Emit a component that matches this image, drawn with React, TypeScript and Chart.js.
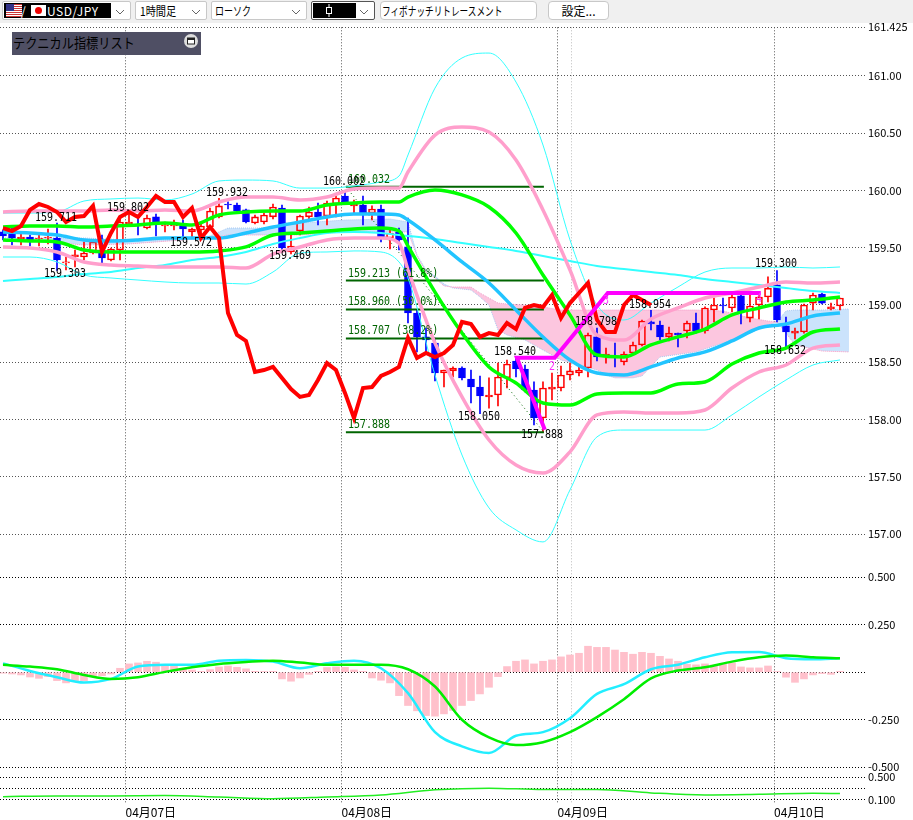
import React, { useEffect, useRef } from "react";
import { Chart, registerables } from "chart.js";

Chart.register(...registerables);

const opens = [159.638,159.664,159.576,159.594,159.576,159.585,159.585,159.367,159.419,159.419,159.454,159.454,159.393,159.480,159.707,159.707,159.672,159.769,159.690,159.690,159.690,159.638,159.655,159.681,159.769,159.882,159.873,159.830,159.716,159.725,159.769,159.847,159.463,159.646,159.769,159.812,159.777,159.882,159.952,159.865,159.873,159.803,159.838,159.585,159.638,159.507,158.930,158.721,158.668,158.406,158.424,158.450,158.354,158.284,158.197,158.214,158.363,158.511,158.441,158.258,158.013,158.266,158.275,158.389,158.406,158.450,158.721,158.555,158.555,158.502,158.581,158.651,158.852,158.825,158.721,158.755,158.773,158.843,158.773,158.956,159.000,158.974,159.079,158.886,159.000,159.070,159.175,158.817,158.755,158.764,159.017,159.096,158.965,158.991];
const closes = [159.603,159.585,159.594,159.568,159.585,159.594,159.393,159.376,159.437,159.454,159.550,159.410,159.489,159.725,159.725,159.690,159.760,159.725,159.699,159.699,159.664,159.664,159.690,159.821,159.865,159.873,159.821,159.725,159.769,159.786,159.856,159.498,159.515,159.777,159.812,159.769,159.891,159.934,159.891,159.882,159.795,159.838,159.594,159.629,159.568,158.930,158.721,158.694,158.406,158.432,158.450,158.363,158.284,158.205,158.214,158.371,158.485,158.441,158.258,158.013,158.275,158.284,158.389,158.424,158.432,158.738,158.546,158.572,158.546,158.572,158.651,158.860,158.834,158.721,158.755,158.738,158.843,158.773,158.974,159.000,158.991,159.070,158.939,158.991,159.070,159.148,158.869,158.764,158.773,159.000,159.087,159.017,158.983,159.061];
const highs = [159.655,159.672,159.629,159.611,159.629,159.664,159.716,159.419,159.480,159.550,159.559,159.611,159.498,159.760,159.802,159.786,159.786,159.795,159.725,159.742,159.742,159.672,159.725,159.847,159.932,159.900,159.891,159.838,159.786,159.803,159.882,159.873,159.629,159.786,159.856,159.891,159.908,159.952,160.002,159.917,159.952,159.865,159.873,159.655,159.672,159.760,158.956,158.799,158.712,158.432,158.459,158.459,158.432,158.380,158.363,158.493,158.520,158.540,158.476,158.328,158.328,158.406,158.467,158.493,158.476,158.755,158.798,158.624,158.668,158.590,158.677,158.869,158.954,158.860,158.808,158.755,158.860,158.930,158.983,159.061,159.061,159.087,159.087,159.087,159.113,159.245,159.300,158.895,158.799,159.009,159.105,159.105,159.017,159.061];
const lows = [159.568,159.524,159.524,159.515,159.515,159.533,159.303,159.306,159.332,159.393,159.445,159.367,159.384,159.393,159.699,159.611,159.664,159.603,159.638,159.655,159.585,159.585,159.572,159.664,159.760,159.838,159.803,159.716,159.707,159.707,159.751,159.469,159.445,159.611,159.742,159.699,159.699,159.769,159.882,159.803,159.699,159.742,159.550,159.489,159.480,158.843,158.590,158.590,158.336,158.284,158.371,158.345,158.144,158.050,158.100,158.118,158.275,158.371,158.240,157.952,157.888,158.170,158.249,158.345,158.380,158.371,158.511,158.493,158.459,158.476,158.572,158.642,158.782,158.694,158.686,158.633,158.712,158.755,158.755,158.852,158.930,158.939,158.834,158.852,158.878,159.026,158.852,158.632,158.703,158.755,158.956,159.009,158.956,158.956];

const bandIdx = [0,3,6,9,12,15,18,21,24,27,30,33,36,39,42,44,45,48,51,54,57,60,63,66,69,72,75,78,81,84,87,90,93];
const upperThin = [159.803,159.803,159.812,159.908,159.926,159.934,159.917,159.969,160.083,160.091,160.083,160.021,160.021,160.039,160.074,160.126,160.310,160.894,161.157,161.200,160.947,160.397,159.568,159.000,158.869,159.017,159.157,159.288,159.323,159.323,159.332,159.323,159.332];
const upperPink = [159.812,159.821,159.821,159.821,159.830,159.821,159.830,159.821,159.900,159.943,159.943,159.917,159.943,160.013,160.021,160.021,160.161,160.484,160.554,160.510,160.266,159.830,159.306,158.738,158.694,158.878,158.974,159.061,159.105,159.157,159.201,159.192,159.201];
const upperGreen = [159.681,159.690,159.690,159.681,159.690,159.699,159.716,159.699,159.786,159.812,159.821,159.821,159.873,159.891,159.900,159.900,159.943,160.004,159.961,159.856,159.629,159.262,158.913,158.563,158.546,158.651,158.721,158.790,158.913,158.974,159.026,159.044,159.070];
const middleBlue = [159.638,159.629,159.611,159.568,159.559,159.568,159.585,159.585,159.585,159.629,159.681,159.725,159.769,159.795,159.795,159.786,159.742,159.568,159.376,159.192,158.956,158.721,158.520,158.406,158.389,158.459,158.537,158.590,158.686,158.799,158.834,158.904,158.930];
const lowerGreen = [159.568,159.559,159.550,159.480,159.463,159.463,159.463,159.463,159.472,159.507,159.611,159.629,159.646,159.664,159.672,159.646,159.515,159.113,158.755,158.459,158.319,158.144,158.126,158.223,158.232,158.232,158.310,158.328,158.485,158.581,158.624,158.764,158.790];
const lowerPink = [159.507,159.498,159.463,159.376,159.349,159.341,159.332,159.332,159.332,159.323,159.445,159.507,159.568,159.585,159.585,159.541,159.306,158.668,158.197,157.821,157.603,157.533,157.717,158.040,158.066,158.057,158.057,158.083,158.275,158.415,158.476,158.624,158.651];
const lowerThin = [159.419,159.419,159.376,159.262,159.236,159.218,159.201,159.192,159.192,159.183,159.288,159.454,159.463,159.472,159.463,159.376,159.236,158.389,157.690,157.228,157.036,156.931,157.385,157.848,157.908,157.908,157.908,157.908,158.040,158.197,158.345,158.476,158.520];
const slowCyan = [159.210,159.227,159.245,159.271,159.288,159.323,159.349,159.393,159.419,159.463,159.533,159.585,159.629,159.638,159.629,159.611,159.603,159.576,159.541,159.507,159.472,159.428,159.384,159.341,159.314,159.288,159.262,159.227,159.201,159.175,159.148,159.122,159.105];

const laggingRed = [159.672,159.646,159.690,159.830,159.882,159.856,159.812,159.725,159.769,159.777,159.865,159.463,159.629,159.769,159.812,159.769,159.856,159.952,159.900,159.900,159.769,159.847,159.585,159.681,159.585,158.930,158.738,158.686,158.415,158.432,158.459,158.363,158.266,158.197,158.214,158.345,158.493,158.432,158.232,158.013,158.275,158.284,158.380,158.415,158.459,158.712,158.537,158.581,158.546,158.581,158.651,158.852,158.834,158.721,158.755,158.738,158.843,158.790,158.974,159.000,158.983,159.087,158.886,159.017,159.105,159.192,158.869,158.764,158.764,159.000,159.087,159.044,159.000];

const cloudIdx = [0,5,9,14,20,23,25,30,31,33,38,43,45,46,47,48,49,50,52,53,54,55,56,58,60,62,64,66,67,68,70,71,73,77,80,83,85,86,87,88,91,94];
const spanA = [159.585,159.585,159.585,159.568,159.568,159.603,159.672,159.672,159.716,159.716,159.742,159.751,159.725,159.437,159.306,159.253,159.183,159.148,159.131,159.070,159.000,158.782,158.738,158.694,158.607,158.520,158.476,158.432,158.389,158.363,158.363,158.380,158.546,158.590,158.668,158.755,158.825,158.852,158.948,158.956,158.956,158.965];
const spanB = [159.568,159.550,159.524,159.533,159.568,159.585,159.611,159.611,159.611,159.611,159.638,159.638,159.638,159.428,159.288,159.236,159.166,159.157,159.157,159.105,159.061,159.017,159.009,159.000,158.983,158.956,158.956,158.956,158.956,158.956,158.956,158.956,158.956,158.956,158.948,158.886,158.860,158.852,158.755,158.651,158.598,158.590];

const fibLevels = [160.032,159.213,158.960,158.707,157.888];
const fibRange = [38.1,60.1];
const fibHighLow = [160.032,157.888];
const waveIdx = [60.2,57.1,61.3,67.2,84.2];
const waveValues = [157.91,158.54,158.54,159.105,159.105];

const macdHist = [-0.005,-0.009,-0.014,-0.025,-0.032,-0.023,-0.044,-0.056,-0.044,-0.044,-0.021,-0.018,-0.009,0.021,0.044,0.049,0.058,0.053,0.039,0.039,0.021,0.012,0.005,0.014,0.028,0.033,0.026,0.018,0.005,0.004,0.005,-0.035,-0.047,-0.03,-0.011,0.005,0.025,0.028,0.026,0.012,0.005,-0.03,-0.042,-0.056,-0.123,-0.175,-0.203,-0.228,-0.231,-0.219,-0.201,-0.175,-0.149,-0.114,-0.079,-0.023,0.03,0.058,0.065,0.044,0.058,0.065,0.081,0.091,0.1,0.137,0.131,0.131,0.117,0.105,0.095,0.105,0.1,0.084,0.07,0.058,0.042,0.039,0.044,0.039,0.044,0.049,0.028,0.023,0.023,0.033,0.004,-0.026,-0.053,-0.035,-0.014,-0.007,-0.011,0.005];
const macdIdx = [0,3,6,9,12,15,18,21,24,27,30,33,36,39,42,45,48,51,54,57,60,63,66,69,72,75,78,81,84,87,90,93];
const macdLine = [0.047,0.007,-0.026,-0.054,-0.035,0.03,0.039,0.039,0.061,0.065,0.056,0.021,0.047,0.061,0.021,-0.11,-0.315,-0.39,-0.425,-0.334,-0.315,-0.242,-0.114,-0.063,0.016,0.04,0.079,0.105,0.107,0.074,0.068,0.074];
const macdSignal = [0.039,0.03,0.016,-0.014,-0.035,-0.026,0.002,0.026,0.044,0.054,0.061,0.051,0.039,0.039,0.04,0.016,-0.075,-0.25,-0.343,-0.383,-0.368,-0.315,-0.236,-0.142,-0.032,0.009,0.026,0.056,0.079,0.088,0.079,0.074];

const lowerIdx = [0,6,12,18,24,30,36,42,48,54,60,66,72,78,84,90,93];
const lowerValues = [0.148,0.161,0.161,0.167,0.142,0.112,0.142,0.179,0.27,0.3,0.276,0.276,0.215,0.179,0.191,0.209,0.203];

const priceTicks = [161.425,161,160.5,160,159.5,159,158.5,158,157.5,157];
const priceTickLabels = ["161.425","161.00","160.50","160.00","159.50","159.00","158.50","158.00","157.50","157.00"];
const macdTicks = [0.5,0.25,0,-0.25,-0.5];
const macdTickLabels = ["0.500","0.250","","-0.250","-0.500"];
const lowerTicks = [0.5,0.3,0.1];
const lowerTickLabels = ["0.500","","0.100"];
const dayTicks = [13.61,37.61,61.61,63.17,85.67];
const dayLabels = ["04月07日","04月08日","04月09日","","04月10日"];

const blackTexts = ["159.711","159.303","159.802","159.572","159.932","159.469","160.002","158.050","158.540","157.888","158.798","158.954","159.300","158.632"];
const blackIdx = [5.89,6.89,13.89,20.89,24.89,31.89,37.89,52.89,56.89,59.89,65.89,71.89,85.89,86.89];
const blackAt = [159.76,159.271,159.847,159.541,159.978,159.428,160.074,158.022,158.59,157.865,158.852,159.0,159.358,158.598];
const fibTexts = ["160.032","159.213 (61.8%)","158.960 (50.0%)","158.707 (38.2%)","157.888"];
const fibTextAt = [160.091,159.271,159.026,158.773,157.952];
const waveTexts = ["2","3","4"];
const waveTextIdx = [61,67,84];
const waveTextAt = [158.459,159.035,159.052];

const FONT = '"Noto Sans CJK JP", sans-serif';
const MONO = '"DejaVu Sans Mono", monospace';
const pts = (xs: number[], ys: number[]) => xs.map((x, i) => ({ x, y: ys[i] }));
const all = opens.map((_, i) => i);
const isUp = (i: number) => closes[i] >= opens[i];

const labelPlugin = {
  id: "labels",
  afterDatasetsDraw(chart: any) {
    const { ctx, scales } = chart;
    const x = scales.x;
    const y = scales.y;
    const put = (t: string, k: number, v: number, color: string, align: CanvasTextAlign) => {
      ctx.save();
      ctx.translate(x.getPixelForValue(k), y.getPixelForValue(v));
      ctx.scale(1, 1.25);
      ctx.fillStyle = color;
      ctx.textAlign = align;
      ctx.textBaseline = "middle";
      ctx.font = `10px ${MONO}`;
      ctx.fillText(t, 0, 0);
      ctx.restore();
    };
    fibTexts.forEach((t, i) => put(t, 38.33, fibTextAt[i], "#006400", "left"));
    blackTexts.forEach((t, i) => put(t, blackIdx[i], blackAt[i], "#000", "center"));
    waveTexts.forEach((t, i) => put(t, waveTextIdx[i], waveTextAt[i], "#ff33ff", "center"));
  },
};

const band = (data: any[], color: string, width: number, order: number) => ({
  type: "line" as const,
  data,
  borderColor: color,
  borderWidth: width,
  pointRadius: 0,
  cubicInterpolationMode: "monotone" as const,
  yAxisID: "y",
  order,
});

const Chevron = () => (
  <svg width="10" height="6" style={{ position: "absolute", right: 5, top: 7 }}>
    <polyline points="1,1 5,5 9,1" fill="none" stroke="#666" />
  </svg>
);

const boxStyle = (left: number, width: number): React.CSSProperties => ({
  position: "absolute",
  left,
  top: 1,
  width,
  height: 19,
  boxSizing: "border-box",
  border: "1px solid #c8c8c8",
  borderRadius: 2,
  background: "#fff",
  font: `12px ${FONT}`,
  lineHeight: "17px",
  color: "#000",
  overflow: "hidden",
  whiteSpace: "nowrap",
});

const Narrow = ({ left, ratio, children }: { left: number; ratio: number; children: React.ReactNode }) => (
  <span style={{ position: "absolute", left, top: 0, transform: `scaleX(${ratio})`, transformOrigin: "left center", display: "inline-block" }}>
    {children}
  </span>
);

export default function App() {
  const ref = useRef<HTMLCanvasElement>(null);
  useEffect(() => {
    document.body.style.margin = "0";
    document.body.style.background = "#fff";
    const chart = new Chart(ref.current!, {
      data: {
        datasets: [
          {
            type: "line",
            data: pts(cloudIdx, spanA),
            borderColor: "#a8c8f0",
            borderWidth: 1,
            borderDash: [1, 1],
            pointRadius: 0,
            fill: { target: "+1", above: "#cbe3fc", below: "#fcc6df" },
            yAxisID: "y",
            order: 100,
          },
          {
            type: "line",
            data: pts(cloudIdx, spanB),
            borderColor: "#f59ac5",
            borderWidth: 1,
            borderDash: [1, 1],
            pointRadius: 0,
            yAxisID: "y",
            order: 99,
          },
          {
            type: "bar",
            data: pts(all, all.map((i) => [Math.max(opens[i], closes[i]), highs[i]]) as any),
            backgroundColor: all.map((i) => (isUp(i) ? "#ff0000" : "#0000ff")),
            barThickness: 1,
            grouped: false,
            yAxisID: "y",
            order: 90,
          },
          {
            type: "bar",
            data: pts(all, all.map((i) => [lows[i], Math.min(opens[i], closes[i])]) as any),
            backgroundColor: all.map((i) => (isUp(i) ? "#ff0000" : "#0000ff")),
            barThickness: 1,
            grouped: false,
            yAxisID: "y",
            order: 90,
          },
          {
            type: "bar",
            data: pts(all, all.map((i) => [opens[i], closes[i]]) as any),
            backgroundColor: all.map((i) => (isUp(i) ? "rgba(255,255,255,0)" : "#0000ff")),
            borderColor: all.map((i) => (isUp(i) ? "#ff0000" : "#0000ff")),
            borderWidth: 1,
            borderSkipped: false,
            barThickness: 7,
            grouped: false,
            yAxisID: "y",
            order: 89,
          },
          { ...band(pts(fibRange, fibHighLow), "#006400", 1, 70), borderDash: [1, 3] },
          ...fibLevels.map((v) => ({
            ...band(pts(fibRange, [v, v]), "#006400", 2, 65),
          })),
          band(pts(bandIdx, slowCyan), "#33ffff", 2, 60),
          band(pts(bandIdx, upperThin), "#33ffff", 1, 59),
          band(pts(bandIdx, lowerThin), "#33ffff", 1, 59),
          band(pts(bandIdx, upperPink), "#ff9fcc", 3.5, 58),
          band(pts(bandIdx, lowerPink), "#ff9fcc", 3.5, 58),
          band(pts(bandIdx, middleBlue), "#22c4ff", 3.5, 57),
          band(pts(bandIdx, upperGreen), "#00ff00", 3.5, 56),
          band(pts(bandIdx, lowerGreen), "#00ff00", 3.5, 56),
          { ...band(pts(all.slice(0, laggingRed.length), laggingRed), "#ff0000", 4, 55), cubicInterpolationMode: "default" as const, tension: 0 },
          { ...band(pts(waveIdx, waveValues), "#ff00ff", 4, 54), cubicInterpolationMode: "default" as const, tension: 0 },
          {
            type: "bar",
            data: pts(all, macdHist),
            backgroundColor: "#ffc0cb",
            barThickness: 7,
            grouped: false,
            yAxisID: "macd",
            order: 50,
          },
          { ...band(pts(macdIdx, macdLine), "#22eeff", 2.5, 49), yAxisID: "macd" },
          { ...band(pts(macdIdx, macdSignal), "#00ee00", 2.5, 48), yAxisID: "macd" },
          { ...band(pts(lowerIdx, lowerValues), "#22ee22", 1.5, 47), yAxisID: "low" },
        ] as any,
      },
      options: {
        animation: false,
        responsive: false,
        devicePixelRatio: 1,
        layout: { padding: { top: 27.3, left: 0, right: 0, bottom: 0 } },
        plugins: { legend: { display: false }, tooltip: { enabled: false } },
        scales: {
          x: {
            type: "linear",
            min: -0.333,
            max: 95.78,
            offset: false,
            afterBuildTicks: (s: any) => {
              s.ticks = dayTicks.map((value) => ({ value }));
            },
            afterFit: (s: any) => {
              s.height = 16;
            },
            grid: {
              offset: false,
              drawTicks: false,
              color: (c: any) => (c.index === 3 ? "#bbbbbb" : "#555555"),
            },
            border: { display: false, dash: [1, 2] },
            ticks: {
              autoSkip: false,
              maxRotation: 0,
              align: "start",
              padding: 1,
              color: "#000",
              font: { family: FONT, size: 12 },
              callback: (_: any, i: number) => dayLabels[i],
            },
          },
          y: {
            type: "linear",
            position: "right",
            stack: "panes",
            stackWeight: 524.7,
            min: 156.843,
            max: 161.425,
            afterBuildTicks: (s: any) => {
              s.ticks = priceTicks.map((value) => ({ value }));
            },
            afterFit: (s: any) => {
              s.width = 48;
            },
            grid: { drawTicks: false, color: "#555555" },
            border: { display: false, dash: [1, 2] },
            ticks: {
              autoSkip: false,
              padding: 3,
              color: "#000",
              font: { family: FONT, size: 11 },
              callback: (_: any, i: number) => priceTickLabels[i],
            },
          },
          macd: {
            type: "linear",
            position: "right",
            stack: "panes",
            stackWeight: 220,
            min: -0.525,
            max: 0.633,
            afterBuildTicks: (s: any) => {
              s.ticks = macdTicks.map((value) => ({ value }));
            },
            afterFit: (s: any) => {
              s.width = 48;
            },
            grid: { drawTicks: false, color: "#000" },
            border: { display: false, dash: [1, 2] },
            ticks: {
              autoSkip: false,
              padding: 3,
              color: "#000",
              font: { family: FONT, size: 11 },
              callback: (_: any, i: number) => macdTickLabels[i],
            },
          },
          low: {
            type: "linear",
            position: "right",
            stack: "panes",
            stackWeight: 32,
            min: 0.016,
            max: 0.59,
            afterBuildTicks: (s: any) => {
              s.ticks = lowerTicks.map((value) => ({ value }));
            },
            afterFit: (s: any) => {
              s.width = 48;
            },
            grid: { drawTicks: false, color: "#000" },
            border: { display: false, dash: [1, 2] },
            ticks: {
              autoSkip: false,
              padding: 3,
              color: "#000",
              font: { family: FONT, size: 11 },
              callback: (_: any, i: number) => lowerTickLabels[i],
            },
          },
        },
      } as any,
      plugins: [labelPlugin],
    } as any);
    return () => chart.destroy();
  }, []);

  return (
    <div style={{ position: "absolute", left: 0, top: 0, width: 913, height: 820, background: "#fff", overflow: "hidden" }}>
      <canvas ref={ref} width={913} height={820} style={{ position: "absolute", left: 0, top: 0, width: 913, height: 820 }} />
      <div style={{ position: "absolute", left: 0, top: 0, width: 913, height: 23, background: "#f0f0f0" }}>
        <div style={boxStyle(2, 129)}>
          <div style={{ position: "absolute", left: 1, top: 1, width: 107, height: 15, background: "#000", color: "#fff", lineHeight: "15px" }}>
            <svg width="42" height="13" style={{ position: "absolute", left: 2, top: 1 }}>
              <rect x="0" y="0" width="16" height="13" fill="#fff" />
              {[0, 2, 4, 6, 8, 10, 12].map((s) => (
                <rect key={s} x="0" y={s} width="16" height="1" fill="#c33" />
              ))}
              <rect x="0" y="0" width="8" height="7" fill="#338" />
              <rect x="25" y="1" width="15" height="11" fill="#fff" />
              <circle cx="32.5" cy="6.5" r="3.5" fill="#e00" />
            </svg>
            <span style={{ position: "absolute", left: 17, top: 0 }}>/</span>
            <span style={{ position: "absolute", left: 43, top: 0, letterSpacing: 0.6 }}>USD/JPY</span>
          </div>
          <Chevron />
        </div>
        <div style={boxStyle(135, 72)}>
          <Narrow left={4} ratio={0.85}>1時間足</Narrow>
          <Chevron />
        </div>
        <div style={boxStyle(211, 96)}>
          <Narrow left={3} ratio={0.75}>ローソク</Narrow>
          <Chevron />
        </div>
        <div style={{ ...boxStyle(311, 64), border: "1px solid #555" }}>
          <div style={{ position: "absolute", left: 1, top: 1, width: 43, height: 15, background: "#000" }}>
            <svg width="8" height="13" style={{ position: "absolute", left: 12, top: 1 }}>
              <line x1="4" y1="0" x2="4" y2="13" stroke="#fff" />
              <rect x="1.5" y="3.5" width="5" height="6" fill="#000" stroke="#fff" />
            </svg>
          </div>
          <Chevron />
        </div>
        <div style={{ ...boxStyle(380, 157), borderRadius: 4 }}>
          <Narrow left={1} ratio={0.72}>フィボナッチリトレースメント</Narrow>
        </div>
        <div style={{ ...boxStyle(548, 61), textAlign: "center", borderRadius: 4 }}>設定...</div>
      </div>
      <div
        style={{
          position: "absolute",
          left: 12,
          top: 32,
          width: 189,
          height: 23,
          background: "#4f4f64",
          color: "#000",
          font: `14px ${FONT}`,
          lineHeight: "21px",
          boxSizing: "border-box",
        }}
      >
        <Narrow left={1} ratio={0.87}>テクニカル指標リスト</Narrow>
        <svg width="14" height="14" style={{ position: "absolute", left: 172, top: 2 }}>
          <circle cx="7" cy="7" r="7" fill="#ddd" />
          <rect x="3.5" y="4" width="7" height="6" fill="#fff" stroke="#222" />
          <rect x="3.5" y="4" width="7" height="2" fill="#222" />
        </svg>
      </div>
    </div>
  );
}
